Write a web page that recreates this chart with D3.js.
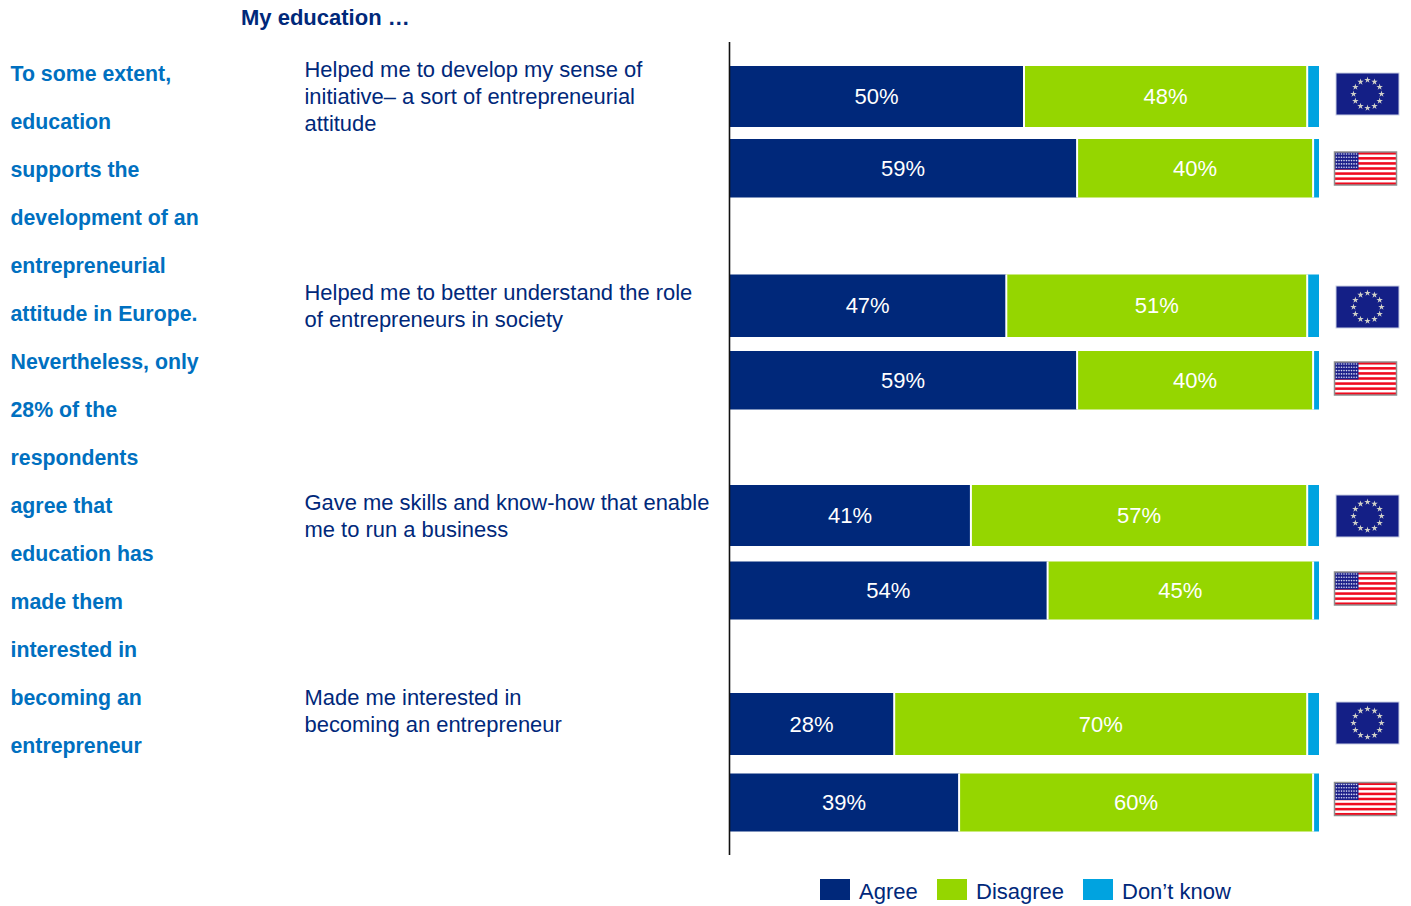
<!DOCTYPE html>
<html>
<head>
<meta charset="utf-8">
<script src="https://cdn.jsdelivr.net/npm/d3@7/dist/d3.min.js"></script>
<style>
  html, body { margin: 0; padding: 0; background: #fff; }
  svg { display: block; }
  text { font-family: "Liberation Sans", Arial, sans-serif; }
</style>
</head>
<body>
<script>
// Survey answers, in percent, for each statement and region
const statements = [
  ["Helped me to develop my sense of", "initiative\u2013 a sort of entrepreneurial", "attitude"],
  ["Helped me to better understand the role", "of entrepreneurs in society"],
  ["Gave me skills and know-how that enable", "me to run a business"],
  ["Made me interested in", "becoming an entrepreneur"]
];
const regions = ["EU", "US"];
const answers = ["Agree", "Disagree", "Don\u2019t know"];
const agreeEU = [50, 47, 41, 28];
const disagreeEU = [48, 51, 57, 70];
const dontKnowEU = [2, 2, 2, 2];
const agreeUS = [59, 59, 54, 39];
const disagreeUS = [40, 40, 45, 60];
const dontKnowUS = [1, 1, 1, 1];
const heading = "My education \u2026";
const commentary = [
  "To some extent,", "education", "supports the", "development of an",
  "entrepreneurial", "attitude in Europe.", "Nevertheless, only", "28% of the",
  "respondents", "agree that", "education has", "made them",
  "interested in", "becoming an", "entrepreneur"
];

// Layout
const width = 1411, height = 906;
const rowTops = [66, 139, 274.5, 351, 485, 561.5, 693, 773.5];
const rowBottoms = [127, 197.5, 337, 409.5, 546, 619.5, 755, 831.5];
const statementBaselines = [77, 300, 510, 705];
const flagCentres = [94, 168.5, 307, 378.5, 516, 588.5, 723, 799];
const colour = d3.scaleOrdinal().domain(answers).range(["#00287a", "#95d600", "#00a3e0"]);
const navy = "#00287a", teal = "#0070c0";

const x = d3.scaleLinear().domain([0, 100]).range([729, 1319]);

const rows = [];
statements.forEach((s, i) => {
  rows.push({ statement: i, region: "EU", values: [agreeEU[i], disagreeEU[i], dontKnowEU[i]] });
  rows.push({ statement: i, region: "US", values: [agreeUS[i], disagreeUS[i], dontKnowUS[i]] });
});
rows.forEach((r, i) => { r.top = rowTops[i]; r.bottom = rowBottoms[i]; r.flagY = flagCentres[i]; });

const svg = d3.select("body").append("svg").attr("width", width).attr("height", height);

// Heading and commentary column
svg.append("text").attr("x", 241).attr("y", 25)
  .attr("font-size", 22).attr("font-weight", 700).attr("fill", navy).text(heading);

svg.append("g").selectAll("text").data(commentary).join("text")
  .attr("x", 10.5).attr("y", (d, i) => 81 + i * 48)
  .attr("font-size", 21.3).attr("font-weight", 700).attr("fill", teal).text(d => d);

// Statement labels
const labelGroups = svg.append("g").selectAll("text").data(statements).join("text")
  .attr("font-size", 21.95).attr("fill", navy);
labelGroups.selectAll("tspan").data((d, i) => d.map(line => ({ line, i }))).join("tspan")
  .attr("x", 304.5)
  .attr("y", (d, j) => statementBaselines[d.i] + j * 26.8)
  .text(d => d.line);

// Stacked bars
const stack = svg.append("g").selectAll("g").data(rows).join("g");
stack.each(function (row) {
  const g = d3.select(this);
  let start = 0;
  const parts = row.values.map((v, k) => {
    const p = { key: answers[k], value: v, from: start, to: start + v };
    start += v;
    return p;
  });
  g.selectAll("rect").data(parts).join("rect")
    .attr("x", d => x(d.from))
    .attr("y", row.top)
    .attr("width", d => x(d.to) - x(d.from))
    .attr("height", row.bottom - row.top)
    .attr("fill", d => colour(d.key));
  // white separators between segments
  g.selectAll("line").data(parts.slice(0, 2)).join("line")
    .attr("x1", d => x(d.to)).attr("x2", d => x(d.to))
    .attr("y1", row.top).attr("y2", row.bottom)
    .attr("stroke", "#fff").attr("stroke-width", 2);
  g.selectAll("text").data(parts.slice(0, 2)).join("text")
    .attr("x", d => (x(d.from) + x(d.to)) / 2)
    .attr("y", (row.top + row.bottom) / 2 + 7.5)
    .attr("text-anchor", "middle")
    .attr("font-size", 22).attr("fill", "#fff")
    .text(d => d.value + "%");
});

// Vertical baseline
svg.append("line").attr("x1", 729.5).attr("x2", 729.5).attr("y1", 42).attr("y2", 855)
  .attr("stroke", "#111").attr("stroke-width", 1.6);

// Region flags
function drawEU(g, cx, cy) {
  const w = 63, h = 42;
  g.append("rect").attr("x", cx - w / 2).attr("y", cy - h / 2).attr("width", w).attr("height", h)
    .attr("fill", "#141f86").attr("stroke", "#c9cfe4").attr("stroke-width", 1);
  const star = d3.symbol().type(d3.symbolStar).size(13);
  d3.range(12).forEach(k => {
    const a = k / 12 * 2 * Math.PI;
    g.append("path").attr("d", star())
      .attr("transform", `translate(${cx + Math.sin(a) * 14},${cy - Math.cos(a) * 14})`)
      .attr("fill", "#d0d0c8");
  });
}
function drawUS(g, cx, cy) {
  const w = 62, h = 33, left = cx - w / 2, top = cy - h / 2;
  g.append("rect").attr("x", left).attr("y", top).attr("width", w).attr("height", h).attr("fill", "#fff");
  const band = d3.scaleBand().domain(d3.range(13)).range([top, top + h]);
  g.selectAll("rect.stripe").data(d3.range(0, 13, 2)).join("rect").attr("class", "stripe")
    .attr("x", left).attr("y", d => band(d)).attr("width", w).attr("height", band.bandwidth())
    .attr("fill", "#f00a1e");
  g.append("rect").attr("x", left).attr("y", top).attr("width", 24).attr("height", 17.5).attr("fill", "#1c1f8a");
  d3.range(5).forEach(r => d3.range(9).forEach(c => {
    g.append("circle").attr("cx", left + 2 + c * 2.5).attr("cy", top + 2 + r * 3.3).attr("r", 0.8).attr("fill", "#d8dcf0");
  }));
  g.append("rect").attr("x", left).attr("y", top).attr("width", w).attr("height", h)
    .attr("fill", "none").attr("stroke", "#8f8f8f").attr("stroke-width", 1.5);
}
const flags = svg.append("g");
rows.forEach(r => {
  const g = flags.append("g");
  if (r.region === "EU") drawEU(g, 1367.5, r.flagY);
  else drawUS(g, 1365.5, r.flagY);
});

// Legend
const legendX = [820, 937, 1083];
const legend = svg.append("g").selectAll("g").data(answers).join("g")
  .attr("transform", (d, i) => `translate(${legendX[i]},879)`);
legend.append("rect").attr("width", 30).attr("height", 21).attr("fill", d => colour(d));
legend.append("text").attr("x", 39).attr("y", 20)
  .attr("font-size", 22).attr("fill", navy).text(d => d);
</script>
</body>
</html>
